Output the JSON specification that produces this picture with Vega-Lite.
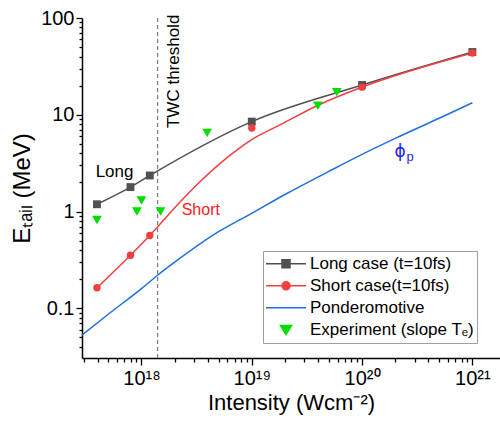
{
  "$schema": "https://vega.github.io/schema/vega-lite/v6.json",
  "width": 418,
  "height": 340,
  "autosize": "none",
  "padding": {"left": 82, "top": 18, "right": 0, "bottom": 63},
  "background": "white",
  "config": {
    "view": {"stroke": null},
    "font": "Liberation Sans",
    "axis": {
      "grid": false,
      "domainColor": "black",
      "domainWidth": 1.5,
      "tickColor": "black",
      "tickWidth": 1.3,
      "labelColor": "black",
      "titleColor": "black",
      "titleFontWeight": "normal",
      "labelFont": "Liberation Sans",
      "titleFont": "Liberation Sans",
      "labelOverlap": false,
      "labelFlush": false
    }
  },
  "datasets": {
    "lines": [
      {"s": "Long case (t=10fs)", "x": 3.95e17, "y": 1.19},
      {"s": "Long case (t=10fs)", "x": 7.95e17, "y": 1.79},
      {"s": "Long case (t=10fs)", "x": 1.19e18, "y": 2.36},
      {"s": "Long case (t=10fs)", "x": 1e19, "y": 8.5},
      {"s": "Long case (t=10fs)", "x": 1e20, "y": 20.3},
      {"s": "Long case (t=10fs)", "x": 1e21, "y": 44.5},
      {"s": "Short case(t=10fs)", "x": 3.95e17, "y": 0.163},
      {"s": "Short case(t=10fs)", "x": 7.95e17, "y": 0.354},
      {"s": "Short case(t=10fs)", "x": 1.19e18, "y": 0.565},
      {"s": "Short case(t=10fs)", "x": 1.92e18, "y": 1.04},
      {"s": "Short case(t=10fs)", "x": 3.39e18, "y": 2.03},
      {"s": "Short case(t=10fs)", "x": 5.94e18, "y": 3.59},
      {"s": "Short case(t=10fs)", "x": 9.6e18, "y": 5.39},
      {"s": "Short case(t=10fs)", "x": 1.94e19, "y": 8.2},
      {"s": "Short case(t=10fs)", "x": 3.9e19, "y": 12.4},
      {"s": "Short case(t=10fs)", "x": 1e20, "y": 19.3},
      {"s": "Short case(t=10fs)", "x": 1e21, "y": 43.5},
      {"s": "Ponderomotive", "x": 2.89e17, "y": 0.053},
      {"s": "Ponderomotive", "x": 5e17, "y": 0.087},
      {"s": "Ponderomotive", "x": 1e18, "y": 0.16},
      {"s": "Ponderomotive", "x": 1.4e18, "y": 0.22},
      {"s": "Ponderomotive", "x": 2e18, "y": 0.3},
      {"s": "Ponderomotive", "x": 5e18, "y": 0.62},
      {"s": "Ponderomotive", "x": 1e19, "y": 0.96},
      {"s": "Ponderomotive", "x": 2e19, "y": 1.5},
      {"s": "Ponderomotive", "x": 5e19, "y": 2.6},
      {"s": "Ponderomotive", "x": 1e20, "y": 3.9},
      {"s": "Ponderomotive", "x": 2e20, "y": 5.7},
      {"s": "Ponderomotive", "x": 5e20, "y": 9.2},
      {"s": "Ponderomotive", "x": 1e21, "y": 13.3}
    ],
    "marks": [
      {"s": "Long case (t=10fs)", "x": 3.95e17, "y": 1.19},
      {"s": "Long case (t=10fs)", "x": 7.95e17, "y": 1.79},
      {"s": "Long case (t=10fs)", "x": 1.19e18, "y": 2.36},
      {"s": "Long case (t=10fs)", "x": 1e19, "y": 8.5},
      {"s": "Long case (t=10fs)", "x": 1e20, "y": 20.3},
      {"s": "Long case (t=10fs)", "x": 1e21, "y": 44.5},
      {"s": "Short case(t=10fs)", "x": 3.95e17, "y": 0.163},
      {"s": "Short case(t=10fs)", "x": 7.95e17, "y": 0.354},
      {"s": "Short case(t=10fs)", "x": 1.19e18, "y": 0.565},
      {"s": "Short case(t=10fs)", "x": 1e19, "y": 7.3},
      {"s": "Short case(t=10fs)", "x": 1e20, "y": 19.3},
      {"s": "Short case(t=10fs)", "x": 1e21, "y": 43.5},
      {"s": "Experiment (slope Tₑ)", "x": 3.95e17, "y": 0.82},
      {"s": "Experiment (slope Tₑ)", "x": 9.1e17, "y": 1.0},
      {"s": "Experiment (slope Tₑ)", "x": 1e18, "y": 1.3},
      {"s": "Experiment (slope Tₑ)", "x": 1.49e18, "y": 1.0},
      {"s": "Experiment (slope Tₑ)", "x": 3.94e18, "y": 6.5},
      {"s": "Experiment (slope Tₑ)", "x": 3.97e19, "y": 12.4},
      {"s": "Experiment (slope Tₑ)", "x": 5.9e19, "y": 17.1}
    ]
  },
  "layer": [
    {
      "data": {"name": "lines"},
      "mark": {"type": "line", "strokeWidth": 1.5, "interpolate": "monotone"},
      "encoding": {
        "x": {
          "field": "x", "type": "quantitative",
          "scale": {"type": "log", "domain": [2.89e17, 1.78e21]},
          "axis": {
            "values": [3e17, 4e17, 5e17, 6e17, 7e17, 8e17, 9e17, 1e18, 2e18, 3e18, 4e18, 5e18, 6e18, 7e18, 8e18, 9e18, 1e19, 2e19, 3e19, 4e19, 5e19, 6e19, 7e19, 8e19, 9e19, 1e20, 2e20, 3e20, 4e20, 5e20, 6e20, 7e20, 8e20, 9e20, 1e21],
            "labelExpr": "datum.value == 1e18 ? '10¹⁸' : datum.value == 1e19 ? '10¹⁹' : datum.value == 1e20 ? '10²⁰' : datum.value == 1e21 ? '10²¹' : ''",
            "tickSize": {"condition": {"test": "datum.value == 1e18 || datum.value == 1e19 || datum.value == 1e20 || datum.value == 1e21", "value": 7}, "value": 4},
            "title": "Intensity (Wcm⁻²)",
            "titleFontSize": 22,
            "labelFontSize": 20,
            "labelPadding": 3,
            "titlePadding": 4
          }
        },
        "y": {
          "field": "y", "type": "quantitative",
          "scale": {"type": "log", "domain": [0.0307, 100]},
          "axis": {
            "values": [0.04, 0.05, 0.06, 0.07, 0.08, 0.09, 0.1, 0.2, 0.3, 0.4, 0.5, 0.6, 0.7, 0.8, 0.9, 1, 2, 3, 4, 5, 6, 7, 8, 9, 10, 20, 30, 40, 50, 60, 70, 80, 90, 100],
            "labelExpr": "datum.value == 0.1 ? '0.1' : datum.value == 1 ? '1' : datum.value == 10 ? '10' : datum.value == 100 ? '100' : ''",
            "tickSize": {"condition": {"test": "datum.value == 0.1 || datum.value == 1 || datum.value == 10 || datum.value == 100", "value": 6}, "value": 3},
            "title": "Eₜₐᵢₗ (MeV)",
            "titleFontSize": 24,
            "labelFontSize": 20,
            "labelPadding": 2,
            "titlePadding": 6
          }
        },
        "color": {
          "field": "s", "type": "nominal",
          "scale": {
            "domain": ["Long case (t=10fs)", "Short case(t=10fs)", "Ponderomotive", "Experiment (slope Tₑ)"],
            "range": ["#505050", "#f23f3f", "#1f6fe0", "#00dd00"]
          },
          "legend": {
            "title": null,
            "orient": "none",
            "legendX": 181,
            "legendY": 233,
            "padding": 2,
            "strokeColor": "#a0a0a0",
            "fillColor": "white",
            "labelFontSize": 17,
            "labelFont": "Liberation Sans",
            "labelColor": "black",
            "labelOffset": 3,
            "labelLimit": 400,
            "symbolSize": 1600,
            "symbolStrokeWidth": 1.5,
            "clipHeight": 21.7,
            "rowPadding": 0,
            "encode": {
              "symbols": {
                "update": {
                  "shape": {"signal": "datum.value == 'Long case (t=10fs)' ? 'M-1,0H1M-0.2,-0.2H0.2V0.2H-0.2Z' : datum.value == 'Short case(t=10fs)' ? 'M-1,0H1M0.2,0A0.2,0.2,0,1,1,-0.2,0A0.2,0.2,0,1,1,0.2,0Z' : datum.value == 'Ponderomotive' ? 'M-1,0H1' : 'M-0.28,-0.22H0.28L0,0.24Z'"},
                  "fill": {"signal": "datum.value == 'Long case (t=10fs)' ? '#505050' : datum.value == 'Short case(t=10fs)' ? '#f23f3f' : datum.value == 'Ponderomotive' ? 'transparent' : '#00dd00'"},
                  "stroke": {"signal": "datum.value == 'Long case (t=10fs)' ? '#505050' : datum.value == 'Short case(t=10fs)' ? '#f23f3f' : datum.value == 'Ponderomotive' ? '#1f6fe0' : 'transparent'"},
                  "opacity": {"value": 1},
                  "fillOpacity": {"value": 1},
                  "strokeWidth": {"value": 1.5},
                  "size": {"value": 1600}
                }
              }
            }
          }
        },
        "detail": {"field": "s"}
      }
    },
    {
      "data": {"values": [{"x": 1.4e18}]},
      "mark": {"type": "rule", "color": "#808080", "strokeWidth": 1.3, "strokeDash": [4, 3]},
      "encoding": {
        "x": {"field": "x", "type": "quantitative", "scale": {"type": "log", "domain": [2.89e17, 1.78e21]}}
      }
    },
    {
      "data": {"name": "marks"},
      "transform": [{"filter": "datum.s == 'Long case (t=10fs)'"}],
      "mark": {"type": "point", "shape": "square", "filled": true, "opacity": 1, "size": 62},
      "encoding": {
        "x": {"field": "x", "type": "quantitative", "scale": {"type": "log", "domain": [2.89e17, 1.78e21]}},
        "y": {"field": "y", "type": "quantitative", "scale": {"type": "log", "domain": [0.0307, 100]}},
        "color": {"field": "s", "type": "nominal"}
      }
    },
    {
      "data": {"name": "marks"},
      "transform": [{"filter": "datum.s == 'Short case(t=10fs)'"}],
      "mark": {"type": "point", "shape": "circle", "filled": true, "opacity": 1, "size": 55},
      "encoding": {
        "x": {"field": "x", "type": "quantitative", "scale": {"type": "log", "domain": [2.89e17, 1.78e21]}},
        "y": {"field": "y", "type": "quantitative", "scale": {"type": "log", "domain": [0.0307, 100]}},
        "color": {"field": "s", "type": "nominal"}
      }
    },
    {
      "data": {"name": "marks"},
      "transform": [{"filter": "datum.s == 'Experiment (slope Tₑ)'"}],
      "mark": {"type": "point", "shape": "triangle-down", "filled": true, "opacity": 1, "size": 95},
      "encoding": {
        "x": {"field": "x", "type": "quantitative", "scale": {"type": "log", "domain": [2.89e17, 1.78e21]}},
        "y": {"field": "y", "type": "quantitative", "scale": {"type": "log", "domain": [0.0307, 100]}},
        "color": {"field": "s", "type": "nominal"}
      }
    },
    {
      "data": {"values": [{"t": "Long", "x": 5.7e17, "y": 2.29}]},
      "mark": {"type": "text", "fontSize": 17, "font": "Liberation Sans", "color": "black", "align": "center", "baseline": "alphabetic"},
      "encoding": {
        "x": {"field": "x", "type": "quantitative", "scale": {"type": "log", "domain": [2.89e17, 1.78e21]}},
        "y": {"field": "y", "type": "quantitative", "scale": {"type": "log", "domain": [0.0307, 100]}},
        "text": {"field": "t"}
      }
    },
    {
      "data": {"values": [{"t": "Short", "x": 3.45e18, "y": 0.924}]},
      "mark": {"type": "text", "fontSize": 16, "font": "Liberation Sans", "color": "#ff2020", "align": "center", "baseline": "alphabetic"},
      "encoding": {
        "x": {"field": "x", "type": "quantitative", "scale": {"type": "log", "domain": [2.89e17, 1.78e21]}},
        "y": {"field": "y", "type": "quantitative", "scale": {"type": "log", "domain": [0.0307, 100]}},
        "text": {"field": "t"}
      }
    },
    {
      "data": {"values": [{"t": "TWC threshold", "x": 1.96e18, "y": 7.3}]},
      "mark": {"type": "text", "fontSize": 17, "font": "Liberation Sans", "color": "black", "align": "left", "baseline": "middle", "angle": 270},
      "encoding": {
        "x": {"field": "x", "type": "quantitative", "scale": {"type": "log", "domain": [2.89e17, 1.78e21]}},
        "y": {"field": "y", "type": "quantitative", "scale": {"type": "log", "domain": [0.0307, 100]}},
        "text": {"field": "t"}
      }
    },
    {
      "data": {"values": [{"t": "ϕ", "x": 1.97e20, "y": 3.68}]},
      "mark": {"type": "text", "fontSize": 17, "font": "DejaVu Sans", "color": "#2222ff", "align": "left", "baseline": "alphabetic"},
      "encoding": {
        "x": {"field": "x", "type": "quantitative", "scale": {"type": "log", "domain": [2.89e17, 1.78e21]}},
        "y": {"field": "y", "type": "quantitative", "scale": {"type": "log", "domain": [0.0307, 100]}},
        "text": {"field": "t"}
      }
    },
    {
      "data": {"values": [{"t": "p", "x": 2.53e20, "y": 3.3}]},
      "mark": {"type": "text", "fontSize": 13, "font": "Liberation Sans", "color": "#2222ff", "align": "left", "baseline": "alphabetic"},
      "encoding": {
        "x": {"field": "x", "type": "quantitative", "scale": {"type": "log", "domain": [2.89e17, 1.78e21]}},
        "y": {"field": "y", "type": "quantitative", "scale": {"type": "log", "domain": [0.0307, 100]}},
        "text": {"field": "t"}
      }
    }
  ]
}
